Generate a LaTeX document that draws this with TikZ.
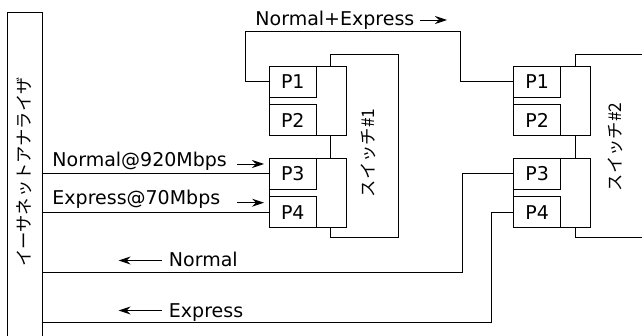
\documentclass[tikz,border=0pt]{standalone}
\usepackage{fontspec}
\setmainfont{DejaVu Sans}
\newfontfamily\cjk{Noto Sans CJK JP}
\usetikzlibrary{arrows.meta}
\begin{document}
\begin{tikzpicture}[x=1pt,y=-1pt,line width=0.9pt,
  every node/.style={inner sep=0pt},
  lbl/.style={font=\fontsize{19}{21}\selectfont,anchor=base west},
  jp/.style={font=\cjk\fontsize{17.3}{19}\selectfont,rotate=90},
  grp/.style={draw,fill=white,minimum width=77pt,minimum height=69.5pt,anchor=north west},
  port/.style={draw,fill=white,minimum width=46.7pt,minimum height=31pt,anchor=north west,font=\fontsize{19}{21}\selectfont},
  arr/.style={-{Stealth[length=12pt,width=8pt,inset=4pt]}}]
\useasboundingbox (0,0) rectangle (642,336);
% analyzer
\node[minimum width=34.2pt,minimum height=332pt,anchor=north west] (ana) at (7.5,12.7) {};
\draw (ana.south west) |- (ana.north east) -- (ana.south east);
\node[jp] (anat) at (24.7,172) {イーサネットアナライザ};
% switch 1
\node[draw,minimum width=67.5pt,minimum height=183pt,anchor=north west] (sw1) at (330,54) {};
\node[jp] (sw1t) at (368,153) {スイッチ\#1};
\node[grp] (s1g1) at (269,66) {};
\node[grp] (s1g2) at (269,157.7) {};
\node[port] (s1p1) at (269,66) {P1};
\node[port] (s1p2) at (269,104.5) {P2};
\node[port] (s1p3) at (269,157.7) {P3};
\node[port] (s1p4) at (269,196.2) {P4};
% switch 2
\node[minimum width=72pt,minimum height=183pt,anchor=north west] (sw2) at (575,54) {};
\draw (sw2.north east) -- (sw2.north west) -- (sw2.south west) -- (sw2.south east);
\node[jp] (sw2t) at (615,147) {スイッチ\#2};
\node[grp] (s2g1) at (513.3,66) {};
\node[grp] (s2g2) at (513.3,157.7) {};
\node[port] (s2p1) at (513.3,66) {P1};
\node[port] (s2p2) at (513.3,104.5) {P2};
\node[port] (s2p3) at (513.3,157.7) {P3};
\node[port] (s2p4) at (513.3,196.2) {P4};
% connectors
\coordinate (ne1) at (245.7,31.7);
\coordinate (ne2) at (460.7,31.7);
\draw (s1p1.west) -| (ne1) -- (ne2) |- (s2p1.west);
\draw (s1p3.west -| ana.east) -- (s1p3.west);
\draw (s1p4.west -| ana.east) -- (s1p4.west);
\coordinate (nr) at (462.7,272.7);
\coordinate (er) at (491.7,322.7);
\draw (s2p3.west) -| (nr) -- (nr -| ana.east);
\draw (s2p4.west) -| (er) -- (er -| ana.east);
% labels
\node[lbl] (l1) at (255,26) {Normal+Express};
\coordinate (a1s) at (420,20); \coordinate (a1e) at (447,20);
\draw[arr] (a1s) -- (a1e);
\node[lbl] (l2) at (52,167) {Normal@920Mbps};
\coordinate (a2s) at (237,164); \coordinate (a2e) at (264,164);
\draw[arr] (a2s) -- (a2e);
\node[lbl] (l3) at (52,205) {Express@70Mbps};
\coordinate (a3s) at (237,202.7); \coordinate (a3e) at (264,202.7);
\draw[arr] (a3s) -- (a3e);
\node[lbl] (l4) at (168.5,267) {Normal};
\coordinate (a4s) at (161.5,260.5); \coordinate (a4e) at (118.6,260.5);
\draw[arr] (a4s) -- (a4e);
\node[lbl] (l5) at (168.5,317) {Express};
\coordinate (a5s) at (161.5,310.5); \coordinate (a5e) at (118.6,310.5);
\draw[arr] (a5s) -- (a5e);
\end{tikzpicture}
\end{document}
